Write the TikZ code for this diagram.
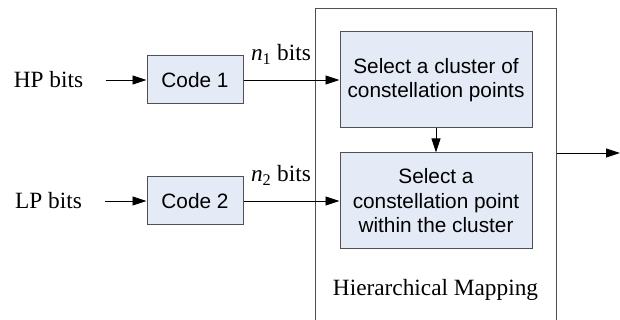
\documentclass[tikz,border=0pt]{standalone}
\usepackage{fontspec}
\setmainfont{Liberation Serif}
\newfontfamily\blockfont{Liberation Sans}
\usetikzlibrary{arrows.meta,positioning}
\definecolor{blockfill}{RGB}{228,235,246}
\definecolor{blockline}{RGB}{80,80,80}

\tikzset{
    block/.style={draw=blockline, fill=blockfill, line width=1pt, align=center,
        font=\blockfont\fontsize{20.8}{24.5}\selectfont},
    label/.style={font=\fontsize{23.3}{26}\selectfont},
    flow/.style={line width=0.9pt, -{Triangle[length=14pt,width=9pt]}}
}

\begin{document}
\begin{tikzpicture}[x=1pt, y=1pt]
    \useasboundingbox (0,0) rectangle (620,320);

    % Mapping frame (runs off the bottom)
    \node[draw=blockline, line width=1pt, minimum width=241pt, minimum height=340pt,
        anchor=north west, inner sep=0pt] (mapping) at (315,312) {};
    \node[label] (maplabel) at (435.5,30) {Hierarchical Mapping};

    % Blocks
    \node[block, minimum width=192pt, minimum height=96pt] (cluster) at (436,240)
        {Select a cluster of\\constellation points};
    \node[block, minimum width=192pt, minimum height=96pt] (point) at (436,119)
        {Select a\\constellation point\\within the cluster};
    \node[block, minimum width=96pt, minimum height=48pt] (code1) at (195,240) {Code 1};
    \node[block, minimum width=96pt, minimum height=48pt] (code2) at (195,119) {Code 2};

    % Inputs
    \node[label] (hp) at (48.5,240) {HP bits};
    \node[label] (lp) at (48.5,119) {LP bits};
    \coordinate (out) at (620,167);

    % Connectors
    \draw[flow] ([xshift=19pt]hp.east) -- (code1);
    \draw[flow] ([xshift=20pt]lp.east) -- (code2);
    \draw[flow] (code1) -- node[label, above, pos=0.39, yshift=12pt] {\textit{n}\textsubscript{1} bits} (cluster);
    \draw[flow] (code2) -- node[label, above, pos=0.39, yshift=12pt] {\textit{n}\textsubscript{2} bits} (point);
    \draw[flow] (cluster) -- (point);
    \draw[flow] (mapping.east |- out) -- (out);
\end{tikzpicture}
\end{document}
